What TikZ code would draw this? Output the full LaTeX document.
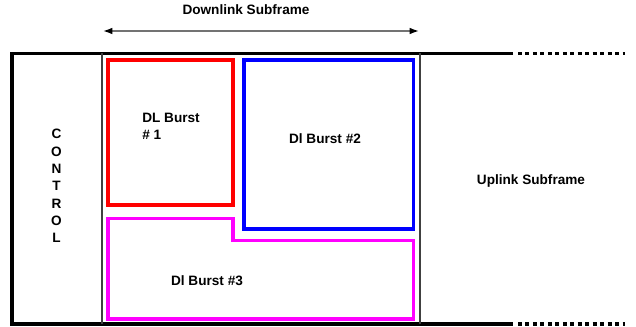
\documentclass[tikz,border=0pt]{standalone}
\usepackage{fontspec}
\setmainfont{Liberation Sans}
\usetikzlibrary{arrows.meta}
\definecolor{burstred}{RGB}{255,0,0}
\definecolor{burstblue}{RGB}{0,0,255}
\definecolor{burstmagenta}{RGB}{255,0,255}
\begin{document}
\begin{tikzpicture}[x=0.75pt, y=-0.75pt,
    frameline/.style={line width=2.3pt, black},
    divider/.style={line width=1pt, black!75},
    burst/.style={line width=2.4pt},
    lbl/.style={font=\bfseries\fontsize{10.2}{13}\selectfont, inner sep=0pt}]
    \useasboundingbox (0,0) rectangle (636,327);

    % Subframe span
    \draw[line width=1.1pt, black!55, {Latex[black,length=7pt,width=5pt]}-{Latex[black,length=7pt,width=5pt]}] (103,31) -- (419,31);
    \node[lbl] (dltitle) at (246,10) {Downlink Subframe};

    % Frame outline
    \draw[frameline] (513,53.5) -- (12,53.5) -- (12,324) -- (513,324);
    \draw[frameline, dash pattern=on 3pt off 2.6pt] (518,53.5) -- (625,53.5);
    \draw[frameline, dash pattern=on 3pt off 2.6pt] (518,324) -- (625,324);
    \draw[divider] (102,53.5) -- (102,324);
    \draw[divider] (420,53.5) -- (420,324);

    % Control region
    \node[lbl, align=center] (ctrl) at (56.5,186) {C\\O\\N\\T\\R\\O\\L};

    % Bursts
    \draw[burst, burstred] (108,60) rectangle (233,205);
    \node[lbl, align=left] (dlb1) at (171,126) {DL Burst\\\# 1};

    \draw[burst, burstblue] (244,60) rectangle (413.5,229);
    \node[lbl] (dlb2) at (325,139) {Dl Burst \#2};

    \draw[burst, burstmagenta] (108,218.5) -- (233,218.5) -- (233,240.5) -- (413.5,240.5)
        -- (413.5,319) -- (108,319) -- cycle;
    \node[lbl] (dlb3) at (207,281) {Dl Burst \#3};

    % Uplink
    \node[lbl] (ultitle) at (531,181) {Uplink Subframe};
\end{tikzpicture}
\end{document}
